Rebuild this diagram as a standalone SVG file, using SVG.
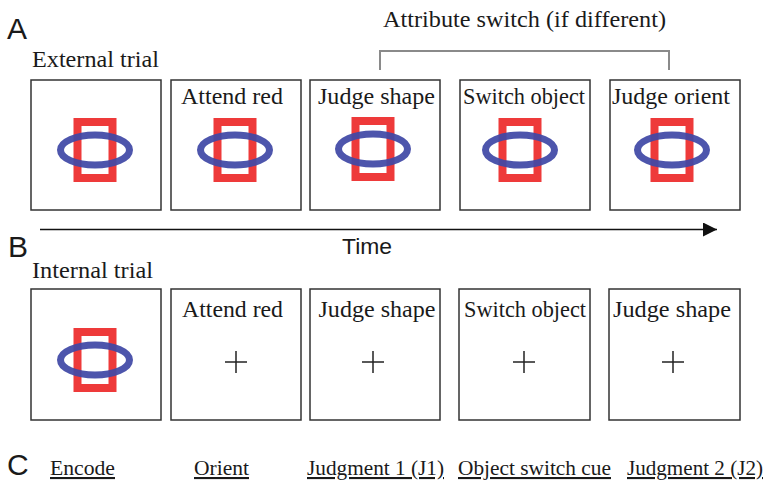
<svg xmlns="http://www.w3.org/2000/svg" xmlns:xlink="http://www.w3.org/1999/xlink" width="766" height="481" viewBox="0 0 766 481">
<style>
.frame{fill:#fff;stroke:#333;stroke-width:1.5}
.lbl{font-family:"Liberation Serif","Times New Roman",serif;font-size:23.5px;fill:#1a1a1a;text-anchor:middle}
.title{font-family:"Liberation Serif","Times New Roman",serif;font-size:23.5px;fill:#1a1a1a}
.cap{font-family:"Liberation Serif","Times New Roman",serif;font-size:21px;fill:#1a1a1a;text-anchor:middle;text-decoration:underline}
.panel{font-family:"Liberation Sans",Arial,sans-serif;font-size:30px;fill:#1a1a1a}
.cross{stroke:#222;stroke-width:1.5}
</style>
<defs>
<g id="stim">
<rect x="-17.5" y="-28" width="35" height="56" fill="none" stroke="#ee3a3a" stroke-width="8"/>
<ellipse cx="0" cy="0" rx="34.5" ry="15" fill="none" stroke="#3f48a6" stroke-width="7" stroke-opacity="0.93"/>
</g>
<g id="cross">
<line x1="-11" y1="0" x2="11" y2="0" class="cross"/>
<line x1="0" y1="-11" x2="0" y2="11" class="cross"/>
</g>
<marker id="arr" markerWidth="14" markerHeight="14" refX="14" refY="7" orient="auto" markerUnits="userSpaceOnUse">
<path d="M0,0 L14,7 L0,14 Z" fill="#111"/>
</marker>
</defs>

<text class="panel" x="7" y="39">A</text>
<text class="panel" x="8" y="257">B</text>
<text class="panel" x="7" y="475">C</text>

<text class="title" x="32" y="67" textLength="127" lengthAdjust="spacingAndGlyphs">External trial</text>
<text class="title" x="32" y="278" textLength="121" lengthAdjust="spacingAndGlyphs">Internal trial</text>
<text class="lbl" x="524.5" y="27" textLength="283" lengthAdjust="spacingAndGlyphs">Attribute switch (if different)</text>

<g id="connectors">
<polyline points="380,70 380,51 669,51 669,70" fill="none" stroke="#8a8a8a" stroke-width="2"/>
<line x1="40" y1="229.5" x2="717" y2="229.5" stroke="#111" stroke-width="1.6" marker-end="url(#arr)"/>
</g>
<text x="342" y="254" font-family="'Liberation Sans',Arial,sans-serif" font-size="22" fill="#1a1a1a" textLength="50" lengthAdjust="spacingAndGlyphs">Time</text>

<g id="A1"><rect class="frame" x="31" y="80" width="130" height="130"/><use xlink:href="#stim" x="95" y="150"/></g>
<g id="A2"><rect class="frame" x="171" y="80" width="130" height="130"/><use xlink:href="#stim" x="235" y="150"/><text class="lbl" x="232" y="104" textLength="102" lengthAdjust="spacingAndGlyphs">Attend red</text></g>
<g id="A3"><rect class="frame" x="310" y="80" width="130" height="130"/><use xlink:href="#stim" x="373" y="149"/><text class="lbl" x="376.5" y="104" textLength="117" lengthAdjust="spacingAndGlyphs">Judge shape</text></g>
<g id="A4"><rect class="frame" x="460" y="80" width="130" height="130"/><use xlink:href="#stim" x="520" y="150"/><text class="lbl" x="524" y="104" textLength="122" lengthAdjust="spacingAndGlyphs">Switch object</text></g>
<g id="A5"><rect class="frame" x="610" y="80" width="130" height="130"/><use xlink:href="#stim" x="672" y="150"/><text class="lbl" x="671" y="104" textLength="118" lengthAdjust="spacingAndGlyphs">Judge orient</text></g>

<g id="B1"><rect class="frame" x="31" y="289" width="130" height="131"/><use xlink:href="#stim" x="95" y="360"/></g>
<g id="B2"><rect class="frame" x="171" y="289" width="130" height="131"/><use xlink:href="#cross" x="236" y="362"/><text class="lbl" x="232.5" y="317" textLength="101" lengthAdjust="spacingAndGlyphs">Attend red</text></g>
<g id="B3"><rect class="frame" x="310" y="289" width="130" height="131"/><use xlink:href="#cross" x="373" y="362"/><text class="lbl" x="377" y="317" textLength="117" lengthAdjust="spacingAndGlyphs">Judge shape</text></g>
<g id="B4"><rect class="frame" x="459" y="289" width="131" height="131"/><use xlink:href="#cross" x="524" y="362"/><text class="lbl" x="525" y="317" textLength="122" lengthAdjust="spacingAndGlyphs">Switch object</text></g>
<g id="B5"><rect class="frame" x="609" y="289" width="131" height="131"/><use xlink:href="#cross" x="673" y="362"/><text class="lbl" x="672" y="317" textLength="118" lengthAdjust="spacingAndGlyphs">Judge shape</text></g>

<g id="C">
<text class="cap" x="82.5" y="475" textLength="65" lengthAdjust="spacingAndGlyphs">Encode</text>
<text class="cap" x="221.5" y="475" textLength="55" lengthAdjust="spacingAndGlyphs">Orient</text>
<text class="cap" x="375.5" y="475" textLength="137" lengthAdjust="spacingAndGlyphs">Judgment 1 (J1)</text>
<text class="cap" x="534.5" y="475" textLength="153" lengthAdjust="spacingAndGlyphs">Object switch cue</text>
<text class="cap" x="695" y="475" textLength="136" lengthAdjust="spacingAndGlyphs">Judgment 2 (J2)</text>
</g>
</svg>
